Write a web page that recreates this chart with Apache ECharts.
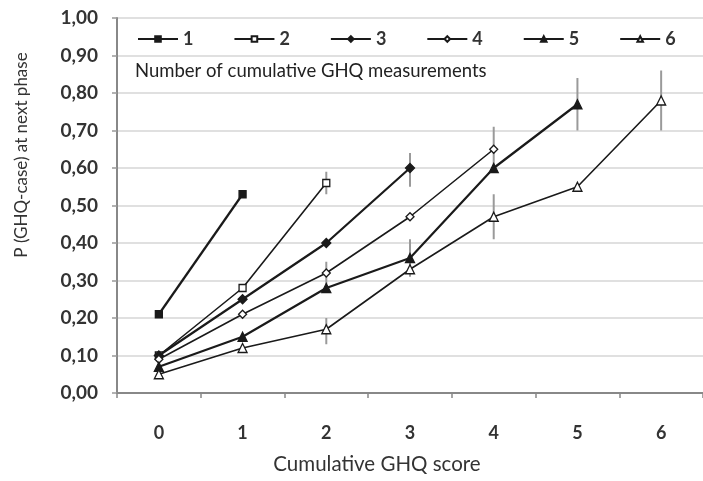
<!DOCTYPE html>
<html>
<head>
<meta charset="utf-8">
<script src="https://cdn.jsdelivr.net/npm/echarts@6/dist/echarts.min.js"></script>
<style>
html,body{margin:0;padding:0;background:#fff;}
#chart{width:703px;height:481px;}
</style>
</head>
<body>
<div id="chart"></div>
<script>
var categories = ['0','1','2','3','4','5','6'];
var seriesNames = ['1','2','3','4','5','6'];
var s1 = [0.21, 0.53];
var s2 = [0.10, 0.28, 0.56];
var s3 = [0.10, 0.25, 0.40, 0.60];
var s4 = [0.09, 0.21, 0.32, 0.47, 0.65];
var s5 = [0.07, 0.15, 0.28, 0.36, 0.60, 0.77];
var s6 = [0.05, 0.12, 0.17, 0.33, 0.47, 0.55, 0.78];
// error bars: [category index, low, high]
var errorBars = [
  [2, 0.53, 0.59],
  [3, 0.55, 0.64],
  [2, 0.29, 0.35],
  [4, 0.59, 0.71],
  [3, 0.34, 0.41],
  [5, 0.70, 0.84],
  [2, 0.13, 0.20],
  [4, 0.41, 0.53],
  [3, 0.31, 0.345],
  [6, 0.70, 0.86]
];
var yTitle = 'P (GHQ-case) at next phase';
var xTitle = 'Cumulative GHQ score';
var legendTitle = 'Number of cumulative GHQ measurements';

var FONT = 'Lato';
var allData = [s1, s2, s3, s4, s5, s6];
var symbols = ['rect','rect','diamond','diamond','triangle','triangle'];
var filled = [true, false, true, false, true, false];
var sizes = [7, 7, 9, 8, 9, 9];
var widths = [2.2, 1.6, 2.2, 1.6, 2.2, 1.6];

var series = allData.map(function (d, i) {
  return {
    name: seriesNames[i],
    type: 'line',
    data: d,
    symbol: symbols[i],
    symbolSize: sizes[i],
    showAllSymbol: true,
    z: 3,
    lineStyle: {color: '#1a1a1a', width: widths[i]},
    itemStyle: {
      color: filled[i] ? '#1a1a1a' : '#ffffff',
      borderColor: '#1a1a1a',
      borderWidth: 1.3
    },
    emphasis: {disabled: true}
  };
});

series.push({
  type: 'custom',
  name: 'err',
  z: 1,
  data: errorBars,
  renderItem: function (params, api) {
    var lo = api.coord([api.value(0), api.value(1)]);
    var hi = api.coord([api.value(0), api.value(2)]);
    return {
      type: 'line',
      shape: {x1: lo[0], y1: lo[1], x2: hi[0], y2: hi[1]},
      style: {stroke: '#9a9a9a', lineWidth: 2}
    };
  }
});

var chart = echarts.init(document.getElementById('chart'));
chart.setOption({
  animation: false,
  backgroundColor: '#ffffff',
  grid: {left: 117, right: -8, top: 18, bottom: 88},
  legend: {
    data: seriesNames,
    left: 137,
    top: 30,
    padding: 0,
    itemWidth: 40,
    itemHeight: 7,
    itemGap: 40,
    textStyle: {fontFamily: FONT, fontSize: 18, fontWeight: 'bold', color: '#333'}
  },
  graphic: [
    {type: 'text', left: 135, top: 62, style: {text: legendTitle, font: '18.5px ' + FONT, fill: '#222'}},
    {type: 'text', x: 22, y: 155, rotation: Math.PI / 2, style: {text: yTitle, font: '17px ' + FONT, fill: '#333', textAlign: 'center', textVerticalAlign: 'middle'}},
    {type: 'text', x: 377, y: 464, style: {text: xTitle, font: '20.5px ' + FONT, fill: '#333', textAlign: 'center', textVerticalAlign: 'middle'}}
  ],
  xAxis: {
    type: 'category',
    data: categories,
    boundaryGap: true,
    axisLine: {lineStyle: {color: '#888', width: 2}},
    axisTick: {show: true, length: 5, lineStyle: {color: '#888', width: 1.5}},
    axisLabel: {margin: 31, fontFamily: FONT, fontSize: 18, fontWeight: 'bold', color: '#333'},
    splitLine: {show: false}
  },
  yAxis: {
    type: 'value',
    min: 0,
    max: 1,
    interval: 0.1,
    axisLine: {show: true, lineStyle: {color: '#888', width: 2}},
    axisTick: {show: true, length: 5, lineStyle: {color: '#999', width: 1.5}},
    axisLabel: {
      margin: 19,
      fontFamily: FONT, fontSize: 19, fontWeight: 'bold', color: '#333',
      formatter: function (v) { return v.toFixed(2).replace('.', ','); }
    },
    splitLine: {show: true, lineStyle: {color: '#d6d6d6', width: 1.5}}
  },
  series: series
});
</script>
</body>
</html>
